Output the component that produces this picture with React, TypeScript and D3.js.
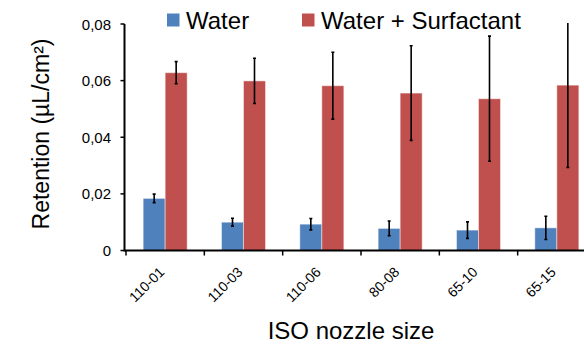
import { useEffect, useRef } from "react";
import * as d3 from "d3";

const nozzles = ["110-01", "110-03", "110-06", "80-08", "65-10", "65-15"];
const seriesNames = ["Water", "Water + Surfactant"];
const water = [0.0184, 0.0100, 0.0093, 0.0078, 0.0072, 0.0080];
const waterErr = [0.0015, 0.0014, 0.0020, 0.0026, 0.0029, 0.0041];
const surfactant = [0.0628, 0.0599, 0.0582, 0.0556, 0.0536, 0.0584];
const surfactantErr = [0.0039, 0.0080, 0.0118, 0.0167, 0.0221, 0.0291];
const yTicks = [0, 0.02, 0.04, 0.06, 0.08];
const colors = ["#4F81BD", "#C0504D"];

export default function App() {
  const svgRef = useRef<SVGSVGElement>(null);

  useEffect(() => {
    if (!svgRef.current) return;
    const svg = d3.select(svgRef.current);
    svg.selectAll("*").remove();

    const W = 584;
    const font = "'Liberation Sans', Arial, sans-serif";
    const axisX = 124.5;
    const yTop = 24, yBottom = 250.5;

    const x = d3.scaleBand<string>().domain(nozzles).range([126, 596]);
    const y = d3.scaleLinear().domain([0, 0.08]).range([yBottom, yTop]);
    const barW = 22;

    const rows = nozzles.map((n, i) => ({
      n,
      vals: [
        { v: water[i], e: waterErr[i], s: 0 },
        { v: surfactant[i], e: surfactantErr[i], s: 1 },
      ],
    }));

    const clip = svg.append("clipPath").attr("id", "plotclip");
    clip.append("rect").attr("x", axisX).attr("y", yTop - 1).attr("width", W).attr("height", yBottom - yTop + 1);
    const plot = svg.append("g").attr("clip-path", "url(#plotclip)");

    // bars
    rows.forEach((r) => {
      const cx = (x(r.n) ?? 0) + x.bandwidth() / 2;
      r.vals.forEach((d) => {
        plot.append("rect")
          .attr("x", cx - barW + d.s * barW).attr("y", y(d.v))
          .attr("width", barW).attr("height", yBottom - y(d.v))
          .attr("fill", colors[d.s])
          .attr("stroke", "rgba(255,255,255,0.45)").attr("stroke-width", 1);
      });
    });

    // error bars
    rows.forEach((r) => {
      const cx = (x(r.n) ?? 0) + x.bandwidth() / 2;
      r.vals.forEach((d) => {
        const ex = cx - barW / 2 + d.s * barW;
        const y1 = y(d.v + d.e), y2 = y(d.v - d.e);
        plot.append("line").attr("x1", ex).attr("x2", ex).attr("y1", y1).attr("y2", y2)
          .attr("stroke", "#000").attr("stroke-width", 1.6);
        [y1, y2].forEach((yy) => {
          plot.append("line").attr("x1", ex - 1.5).attr("x2", ex + 1.5).attr("y1", yy).attr("y2", yy)
            .attr("stroke", "#000").attr("stroke-width", 1.6);
        });
      });
    });

    // y axis
    svg.append("line").attr("x1", axisX).attr("x2", axisX).attr("y1", yTop).attr("y2", yBottom + 1)
      .attr("stroke", "#000").attr("stroke-width", 2);
    yTicks.forEach((t) => {
      svg.append("line").attr("x1", axisX - 4).attr("x2", axisX).attr("y1", y(t)).attr("y2", y(t))
        .attr("stroke", "#000").attr("stroke-width", 1.5);
      svg.append("text")
        .attr("x", 111).attr("y", y(t) + 5.5)
        .attr("text-anchor", "end").attr("font-family", font).attr("font-size", "15px").attr("fill", "#000")
        .text(t === 0 ? "0" : d3.format(".2f")(t).replace(".", ","));
    });

    // x axis
    svg.append("line").attr("x1", axisX).attr("x2", W).attr("y1", yBottom).attr("y2", yBottom)
      .attr("stroke", "#000").attr("stroke-width", 2);
    const edges = nozzles.map((n) => x(n) ?? 0).concat([(x(nozzles[nozzles.length - 1]) ?? 0) + x.bandwidth()]);
    edges.forEach((ex) => {
      svg.append("line").attr("x1", ex).attr("x2", ex).attr("y1", yBottom).attr("y2", yBottom + 5)
        .attr("stroke", "#000").attr("stroke-width", 1.5);
    });
    nozzles.forEach((n) => {
      const cx = (x(n) ?? 0) + x.bandwidth() / 2;
      svg.append("text")
        .attr("transform", `translate(${cx},${273}) rotate(-45)`)
        .attr("text-anchor", "end").attr("font-family", font).attr("font-size", "14px").attr("fill", "#000")
        .text(n);
    });

    // axis titles
    svg.append("text")
      .attr("x", 351).attr("y", 339)
      .attr("text-anchor", "middle").attr("font-family", font).attr("font-size", "24px").attr("fill", "#000")
      .text("ISO nozzle size");
    svg.append("text")
      .attr("transform", `translate(49,${134}) rotate(-90)`)
      .attr("text-anchor", "middle").attr("font-family", font).attr("font-size", "23px").attr("fill", "#000")
      .text("Retention (µL/cm²)");

    // legend
    const legendX = [167, 302];
    seriesNames.forEach((s, i) => {
      svg.append("rect").attr("x", legendX[i]).attr("y", 13.5).attr("width", 12.5).attr("height", 13)
        .attr("fill", colors[i]);
      svg.append("text")
        .attr("x", legendX[i] + 19).attr("y", 28.5)
        .attr("font-family", font).attr("font-size", "24px").attr("fill", "#000")
        .text(s);
    });
  }, []);

  return (
    <svg
      ref={svgRef}
      width={584}
      height={344}
      style={{ position: "absolute", left: 0, top: 0, background: "#fff" }}
    />
  );
}
